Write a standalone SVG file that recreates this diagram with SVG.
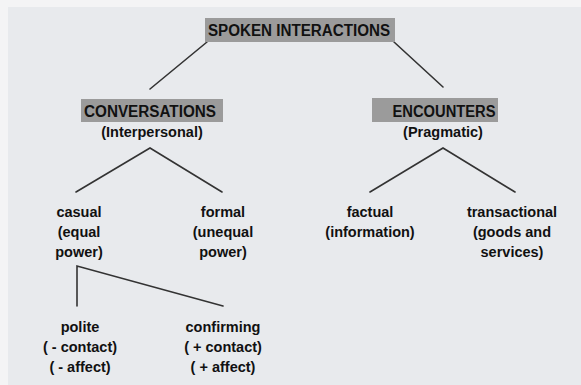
<svg xmlns="http://www.w3.org/2000/svg" width="581" height="385" viewBox="0 0 581 385">
<style>
  text { font-family: "Liberation Sans", Arial, sans-serif; font-weight: bold; fill: #111; text-anchor: middle; }
  .hdr { font-size: 16px; }
  .sub { font-size: 14.5px; }
  .leaf { font-size: 14.5px; }
  .box { fill: #9b9b9b; }
  .conn line, .conn polyline { stroke: #333; stroke-width: 1.6; fill: none; stroke-linecap: round; }
</style>
<rect x="0" y="0" width="581" height="385" fill="#f4f4f5"/>
<rect x="8" y="7" width="573" height="378" fill="#e8eaed"/>
<g class="conn">
  <line x1="207" y1="42" x2="150" y2="89"/>
  <line x1="394" y1="42" x2="443" y2="87"/>
  <polyline points="76,192 150,148 222,192"/>
  <polyline points="370,192 443,148 515,192"/>
  <polyline points="77,306 77,266 223,306"/>
</g>
<g id="spoken">
  <rect class="box" x="205" y="18" width="190" height="24"/>
  <text class="hdr" x="299" y="36" textLength="182" lengthAdjust="spacingAndGlyphs">SPOKEN INTERACTIONS</text>
</g>
<g id="conversations">
  <rect class="box" x="81" y="99" width="142" height="23"/>
  <text class="hdr" x="150" y="117" textLength="132" lengthAdjust="spacingAndGlyphs">CONVERSATIONS</text>
  <text class="sub" x="152" y="137">(Interpersonal)</text>
</g>
<g id="encounters">
  <rect class="box" x="372" y="98" width="126" height="24"/>
  <text class="hdr" x="444" y="117" textLength="103" lengthAdjust="spacingAndGlyphs">ENCOUNTERS</text>
  <text class="sub" x="443" y="137">(Pragmatic)</text>
</g>
<g id="casual">
  <text class="leaf" x="79" y="217">casual</text>
  <text class="leaf" x="79" y="237">(equal</text>
  <text class="leaf" x="79" y="257">power)</text>
</g>
<g id="formal">
  <text class="leaf" x="223" y="217">formal</text>
  <text class="leaf" x="223" y="237">(unequal</text>
  <text class="leaf" x="223" y="257">power)</text>
</g>
<g id="factual">
  <text class="leaf" x="370" y="217">factual</text>
  <text class="leaf" x="370" y="237">(information)</text>
</g>
<g id="transactional">
  <text class="leaf" x="512" y="217">transactional</text>
  <text class="leaf" x="512" y="237">(goods and</text>
  <text class="leaf" x="512" y="257">services)</text>
</g>
<g id="polite">
  <text class="leaf" x="80" y="332">polite</text>
  <text class="leaf" x="80" y="352">( - contact)</text>
  <text class="leaf" x="80" y="372">( - affect)</text>
</g>
<g id="confirming">
  <text class="leaf" x="223" y="332">confirming</text>
  <text class="leaf" x="223" y="352">( + contact)</text>
  <text class="leaf" x="223" y="372">( + affect)</text>
</g>
</svg>
